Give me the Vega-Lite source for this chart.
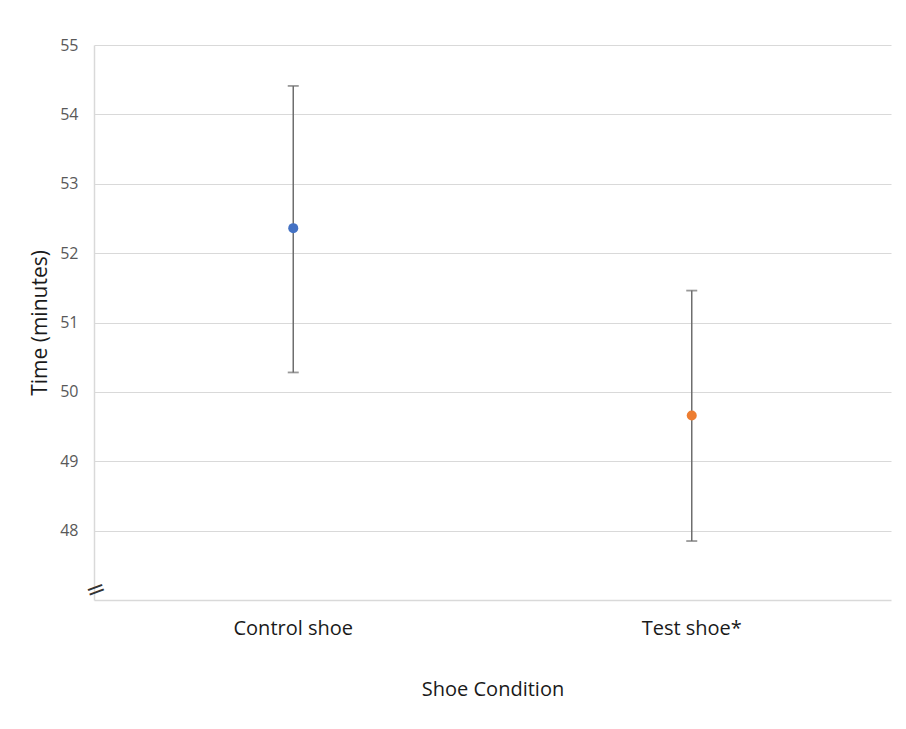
{
  "$schema": "https://vega.github.io/schema/vega-lite/v6.json",
  "autosize": "none",
  "width": 797,
  "height": 555,
  "padding": {"left": 94, "top": 45, "right": 15, "bottom": 129},
  "background": "white",
  "config": {
    "view": {"stroke": null},
    "font": "Open Sans"
  },
  "data": {
    "values": [
      {"condition": "Control shoe", "mean": 52.36, "lo": 50.28, "hi": 54.41},
      {"condition": "Test shoe*", "mean": 49.66, "lo": 47.85, "hi": 51.46}
    ]
  },
  "encoding": {
    "x": {
      "field": "condition",
      "type": "nominal",
      "sort": null,
      "scale": {"type": "band", "paddingInner": 0, "paddingOuter": 0},
      "axis": {
        "title": "Shoe Condition",
        "titleFont": "Open Sans",
        "titleFontSize": 20,
        "titleFontWeight": "normal",
        "titleColor": "#1a1a1a",
        "titlePadding": 41,
        "labelAngle": 0,
        "labelFont": "Open Sans",
        "labelFontSize": 20,
        "labelColor": "#1a1a1a",
        "labelPadding": 18,
        "ticks": false,
        "domainColor": "#d9d9d9",
        "domainWidth": 1.5,
        "grid": false
      }
    }
  },
  "layer": [
    {
      "mark": {"type": "rule", "color": "#6e6e6e", "strokeWidth": 1.5},
      "encoding": {
        "y": {
          "field": "lo",
          "type": "quantitative",
          "scale": {"domain": [47, 55], "nice": false, "zero": false},
          "axis": {
            "title": "Time (minutes)",
            "titleFont": "Open Sans",
            "titleFontSize": 21,
            "titleFontWeight": "normal",
            "titleColor": "#1a1a1a",
            "titlePadding": 9,
            "values": [48, 49, 50, 51, 52, 53, 54, 55],
            "format": "d",
            "labelFont": "Open Sans",
            "labelFontSize": 16,
            "labelColor": "#595959",
            "labelPadding": 16,
            "ticks": false,
            "domainColor": "#d9d9d9",
            "domainWidth": 1.5,
            "grid": true,
            "gridColor": "#d9d9d9",
            "gridWidth": 1.2
          }
        },
        "y2": {"field": "hi"}
      }
    },
    {
      "mark": {"type": "tick", "color": "#6e6e6e", "thickness": 1.8, "size": 11, "orient": "horizontal"},
      "encoding": {"y": {"field": "lo", "type": "quantitative"}}
    },
    {
      "mark": {"type": "tick", "color": "#6e6e6e", "thickness": 1.8, "size": 11, "orient": "horizontal"},
      "encoding": {"y": {"field": "hi", "type": "quantitative"}}
    },
    {
      "mark": {"type": "point", "filled": true, "opacity": 1, "size": 100, "shape": "circle"},
      "encoding": {
        "y": {"field": "mean", "type": "quantitative"},
        "color": {
          "field": "condition",
          "type": "nominal",
          "scale": {"domain": ["Control shoe", "Test shoe*"], "range": ["#4472C4", "#ED7D31"]},
          "legend": null
        }
      }
    },
    {
      "data": {"values": [{"mark": "="}]},
      "mark": {"type": "text", "font": "DejaVu Sans", "fontSize": 24, "color": "#333333", "angle": 340, "align": "center", "baseline": "middle"},
      "encoding": {
        "x": {"value": 2},
        "y": {"datum": 47.14, "type": "quantitative"},
        "text": {"field": "mark"}
      }
    }
  ]
}
